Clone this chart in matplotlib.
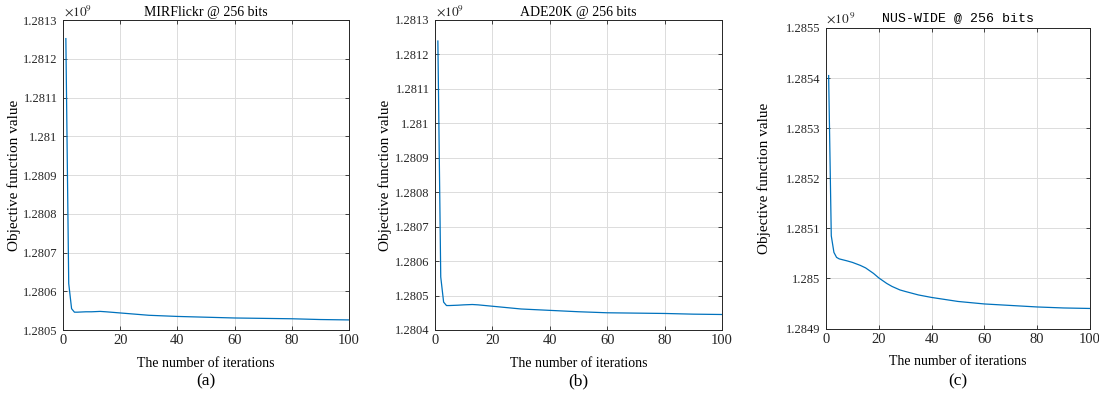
import numpy as np
import matplotlib.pyplot as plt

plt.rcParams['font.family'] = ['Liberation Serif', 'DejaVu Serif']
plt.rcParams['mathtext.fontset'] = 'stix'

# objective value (x 1e9) at selected iterations
iters_a = [1, 2, 3, 4, 5, 8, 10, 13, 15, 20, 25, 30, 40, 50, 60, 70, 80, 90, 100]
obj_a = [1.281252, 1.280620, 1.280555, 1.280546, 1.280546, 1.280547, 1.280547,
         1.280548, 1.280547, 1.280544, 1.280541, 1.280538, 1.280535, 1.280533,
         1.280531, 1.280530, 1.280529, 1.280527, 1.280526]

iters_b = [1, 2, 3, 4, 5, 8, 10, 13, 15, 20, 25, 30, 40, 50, 60, 70, 80, 90, 100]
obj_b = [1.281239, 1.280554, 1.280481, 1.280471, 1.280471, 1.280472, 1.280473,
         1.280474, 1.280473, 1.280469, 1.280465, 1.280461, 1.280457, 1.280453,
         1.280450, 1.280449, 1.280448, 1.280446, 1.280445]

iters_c = [1, 2, 3, 4, 5, 8, 10, 13, 15, 18, 20, 23, 25, 28, 30, 35, 40, 50, 60,
           70, 80, 90, 100]
obj_c = [1.285405, 1.285085, 1.285052, 1.285042, 1.285039, 1.285035, 1.285032,
         1.285026, 1.285021, 1.285010, 1.285001, 1.284990, 1.284984, 1.284977,
         1.284974, 1.284967, 1.284962, 1.284954, 1.284949, 1.284946, 1.284943,
         1.284941, 1.284940]

titles = ["MIRFlickr @ 256 bits", "ADE20K @ 256 bits", "NUS-WIDE @ 256 bits"]
panel_tags = ["(a)", "(b)", "(c)"]
y_ranges = [(1.2805, 1.2813), (1.2804, 1.2813), (1.2849, 1.2855)]
x_ticks = [0, 20, 40, 60, 80, 100]

W, H = 1099, 393
fig = plt.figure(figsize=(W / 100, H / 100), dpi=100)

# axes boxes in pixels: left, right, top, bottom
boxes = [(63, 349, 20, 330), (435, 722, 20, 330), (826, 1090, 28, 328.5)]
ylabel_x = [15, 386, 765]  # centre of the y label
data = [(iters_a, obj_a), (iters_b, obj_b), (iters_c, obj_c)]

for i, (l, r, t, b) in enumerate(boxes):
    ax = fig.add_axes([l / W, (H - b) / H, (r - l) / W, (b - t) / H])
    x, y = data[i]
    ax.plot(x, y, color='#0072BD', lw=0.9)
    lo, hi = y_ranges[i]
    ax.set_xlim(0, 100)
    ax.set_ylim(lo, hi)
    yt = np.round(np.arange(lo, hi + 1e-9, 0.0001), 4)
    ax.set_yticks(yt)
    ax.set_yticklabels(['%g' % v for v in yt])
    ax.set_xticks(x_ticks)
    ax.grid(True, color='#dcdcdc', lw=0.7)
    ax.set_axisbelow(True)
    ax.tick_params(direction='in', top=True, right=True, colors='#262626',
                   length=3, width=0.6, pad=4)
    ax.tick_params(axis='y', labelsize=9)
    ax.tick_params(axis='x', labelsize=10.5, pad=3)
    for s in ax.spines.values():
        s.set_color('#262626')
        s.set_linewidth(0.7)
    ax.set_xlabel("The number of iterations", fontsize=10, labelpad=7)
    ax.set_ylabel("Objective function value", fontsize=11)
    ax.yaxis.set_label_coords((ylabel_x[i] + 6 - l) / (r - l), 0.5)
    if i == 2:
        ax.set_title(titles[i], fontsize=9.5, family='Liberation Mono', pad=5)
        ax.text(0, 1.008, r'$\times10^{\,9}$', transform=ax.transAxes,
                fontsize=9.5, color='#262626', va='bottom', ha='left')
    else:
        ax.set_title(titles[i], fontsize=10, pad=3)
        ax.text(0.005, 1.003, r'$\times10^9$', transform=ax.transAxes,
                fontsize=9.5, color='#262626', va='bottom', ha='left')
    fig.text((l + r) / 2 / W, 1 - 381 / H, panel_tags[i], fontsize=12.5,
             ha='center', va='center')

fig.savefig('out.png', dpi=100)
